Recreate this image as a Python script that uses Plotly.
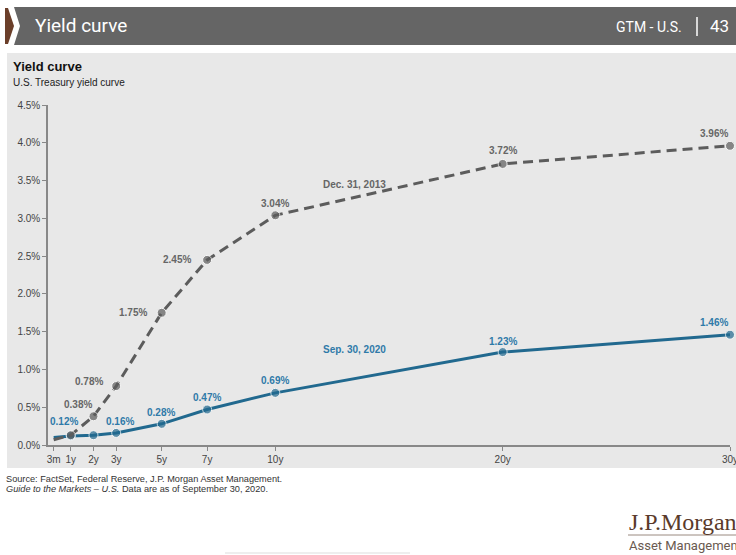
import plotly.graph_objects as go

# ---------------- data ----------------
maturity_labels = ["3m", "1y", "2y", "3y", "5y", "7y", "10y", "20y", "30y"]
maturity_years = [0.25, 1, 2, 3, 5, 7, 10, 20, 30]
yield_2013 = [0.07, 0.13, 0.38, 0.78, 1.75, 2.45, 3.04, 3.72, 3.96]
yield_2020 = [0.10, 0.12, 0.13, 0.16, 0.28, 0.47, 0.69, 1.23, 1.46]
show_label_2013 = [False, False, True, True, True, True, True, True, True]
show_label_2020 = [False, True, False, True, True, True, True, True, True]
y_ticks = [0.0, 0.5, 1.0, 1.5, 2.0, 2.5, 3.0, 3.5, 4.0, 4.5]

# ---------------- styles ----------------
W, H = 736, 555
L, R, T, B = 48, 6, 105, 110
PW, PH = W - L - R, H - T - B

def px(x):
    return (x - L) / PW

def py(y):
    return (H - B - y) / PH

GRAY_LINE = "#5c5c5c"
GRAY_TEXT = "#666666"
BLUE_LINE = "#21698f"
BLUE_TEXT = "#2f7aa8"
FONT = "Liberation Sans, Arial, sans-serif"

# label offsets (px) relative to each point
off_2013 = [(0, 0), (0, 0), (-15, -12), (-27, -5), (-29, 0), (-30, 0), (0, -12), (0, -13), (-16, -12)]
off_2020 = [(0, 0), (-7, -14), (0, 0), (4, -11), (-1, -11), (0, -12), (0, -12), (0, -11), (-16, -12)]

fig = go.Figure()

fig.add_trace(go.Scatter(
    x=maturity_years, y=yield_2020, mode="lines+markers",
    line=dict(color=BLUE_LINE, width=3),
    marker=dict(color=BLUE_LINE, size=[0] + [9] * (len(maturity_years) - 1)),
    hoverinfo="skip", showlegend=False, cliponaxis=False))

fig.add_trace(go.Scatter(
    x=maturity_years, y=yield_2013, mode="lines+markers",
    line=dict(color=GRAY_LINE, width=3, dash="10px,6px"),
    marker=dict(color=GRAY_LINE, size=[0] + [9] * (len(maturity_years) - 1)),
    hoverinfo="skip", showlegend=False, cliponaxis=False))

annotations = []
for xv, yv, show, (dx, dy) in zip(maturity_years, yield_2013, show_label_2013, off_2013):
    if show:
        annotations.append(dict(x=xv, y=yv, xref="x", yref="y", text=f"<b>{yv:.2f}%</b>",
                                showarrow=False, xshift=dx, yshift=-dy,
                                font=dict(family=FONT, size=10, color=GRAY_TEXT)))
for xv, yv, show, (dx, dy) in zip(maturity_years, yield_2020, show_label_2020, off_2020):
    if show:
        annotations.append(dict(x=xv, y=yv, xref="x", yref="y", text=f"<b>{yv:.2f}%</b>",
                                showarrow=False, xshift=dx, yshift=-dy,
                                font=dict(family=FONT, size=10, color=BLUE_TEXT)))

# series names
annotations.append(dict(x=px(354), y=py(177), xref="paper", yref="paper", text="<b>Dec. 31, 2013</b>",
                        showarrow=False, font=dict(family=FONT, size=10, color=GRAY_TEXT)))
annotations.append(dict(x=px(354), y=py(357), xref="paper", yref="paper", text="<b>Sep. 30, 2020</b>",
                        showarrow=False, font=dict(family=FONT, size=10, color=BLUE_TEXT)))

# header texts
annotations.append(dict(x=px(33), y=py(26), xref="paper", yref="paper", text="Yield curve",
                        xanchor="left", yanchor="middle", showarrow=False,
                        font=dict(family="Liberation Sans Narrow, Roboto, sans-serif", size=19, color="white")))
annotations.append(dict(x=px(684), y=py(27), xref="paper", yref="paper", text="GTM - U.S.",
                        xanchor="right", yanchor="middle", showarrow=False,
                        font=dict(family="Liberation Sans Narrow, Roboto, sans-serif", size=14, color="white")))
annotations.append(dict(x=px(731), y=py(26), xref="paper", yref="paper", text="43",
                        xanchor="right", yanchor="middle", showarrow=False,
                        font=dict(family="Liberation Sans Narrow, Roboto, sans-serif", size=17, color="white")))

# chart title
annotations.append(dict(x=px(11), y=py(67), xref="paper", yref="paper", text="<b>Yield curve</b>",
                        xanchor="left", yanchor="middle", showarrow=False,
                        font=dict(family=FONT, size=13, color="#111111")))
annotations.append(dict(x=px(11), y=py(82), xref="paper", yref="paper", text="U.S. Treasury yield curve",
                        xanchor="left", yanchor="middle", showarrow=False,
                        font=dict(family=FONT, size=10, color="#222222")))

# footer
annotations.append(dict(x=px(4), y=py(479), xref="paper", yref="paper",
                        text="Source: FactSet, Federal Reserve, J.P. Morgan Asset Management.",
                        xanchor="left", yanchor="middle", showarrow=False,
                        font=dict(family=FONT, size=9.2, color="#333333")))
annotations.append(dict(x=px(4), y=py(489), xref="paper", yref="paper",
                        text="<i>Guide to the Markets – U.S.</i> Data are as of September 30, 2020.",
                        xanchor="left", yanchor="middle", showarrow=False,
                        font=dict(family=FONT, size=9.2, color="#333333")))

# logo
annotations.append(dict(x=px(627), y=py(522), xref="paper", yref="paper", text="J.P.Morgan",
                        xanchor="left", yanchor="middle", showarrow=False,
                        font=dict(family="Liberation Serif, DejaVu Serif, serif", size=24, color="#5a3a2a")))
annotations.append(dict(x=px(627), y=py(545), xref="paper", yref="paper", text="Asset Management",
                        xanchor="left", yanchor="middle", showarrow=False,
                        font=dict(family="Liberation Sans Narrow, Roboto, sans-serif", size=13, color="#6a5a50")))

shapes = [
    dict(type="rect", xref="paper", yref="paper", x0=px(7), x1=px(736), y0=py(468), y1=py(53),
         fillcolor="#e8e8e8", line=dict(width=0), layer="below"),
    dict(type="path", xref="paper", yref="paper",
         path=f"M {px(14)},{py(7)} L {px(736)},{py(7)} L {px(736)},{py(45)} L {px(14)},{py(45)} L {px(20)},{py(26)} Z",
         fillcolor="#656565", line=dict(width=0), layer="below"),
    dict(type="path", xref="paper", yref="paper",
         path=f"M {px(5)},{py(8)} L {px(8)},{py(8)} L {px(14)},{py(26)} L {px(8)},{py(44)} L {px(5)},{py(44)} Z",
         fillcolor="#6b3f2a", line=dict(width=0), layer="below"),
    dict(type="line", xref="paper", yref="paper", x0=px(697), x1=px(697), y0=py(17), y1=py(36),
         line=dict(color="white", width=1.5)),
    dict(type="line", xref="paper", yref="paper", x0=px(628), x1=px(736), y0=py(535), y1=py(535),
         line=dict(color="#9a8a80", width=1)),
    dict(type="line", xref="paper", yref="paper", x0=px(225), x1=px(410), y0=py(553), y1=py(553),
         line=dict(color="#dddddd", width=1)),
]

fig.update_layout(
    width=W, height=H,
    margin=dict(l=L, r=R, t=T, b=B, autoexpand=False),
    paper_bgcolor="white", plot_bgcolor="rgba(0,0,0,0)",
    showlegend=False,
    annotations=annotations, shapes=shapes,
    font=dict(family=FONT, size=10, color="#444444"),
)
fig.update_xaxes(
    range=[0, 30], tickmode="array", tickvals=maturity_years, ticktext=maturity_labels,
    showgrid=False, zeroline=False, showline=True, linecolor="#888888", linewidth=1.5,
    ticks="outside", ticklen=4, tickcolor="#888888", tickfont=dict(size=10, color="#444444"),
    ticklabeloverflow="allow", automargin=False,
)
fig.update_yaxes(
    range=[0, 4.5], tickmode="array", tickvals=y_ticks,
    ticktext=[f"{v:.1f}%" for v in y_ticks],
    showgrid=False, zeroline=False, showline=True, linecolor="#888888", linewidth=1.5,
    ticks="outside", ticklen=4, tickcolor="#888888", tickfont=dict(size=10, color="#444444"),
    automargin=False,
)

fig.write_html("out.html")
